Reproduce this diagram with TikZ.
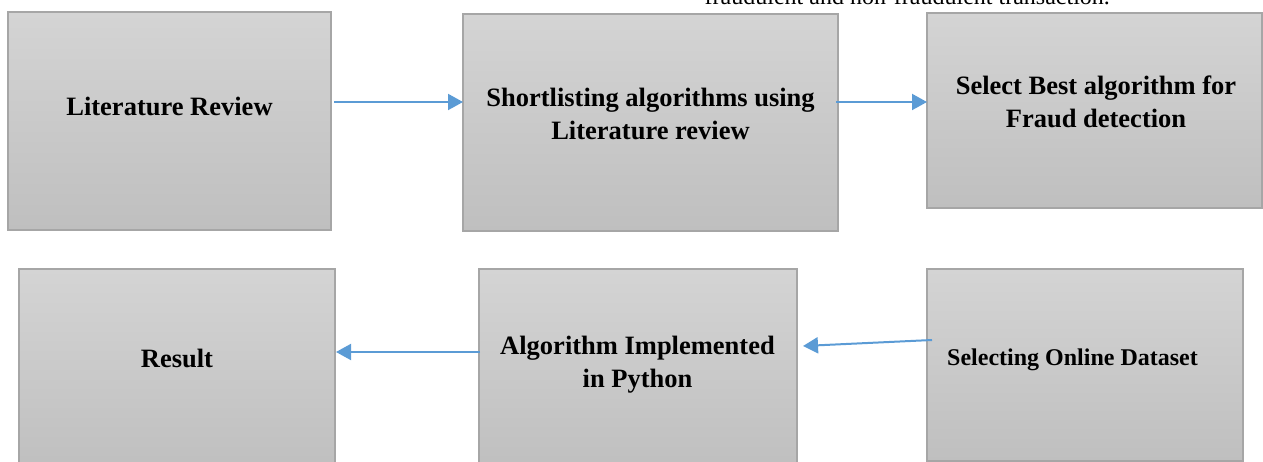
\documentclass[tikz,border=0pt]{standalone}
\usepackage{fontspec}
\setmainfont{Liberation Serif}
\usetikzlibrary{arrows.meta}
\definecolor{arrblue}{HTML}{5B9BD5}
\definecolor{boxedge}{HTML}{A6A6A6}
\definecolor{boxtop}{HTML}{D4D4D4}
\definecolor{boxbot}{HTML}{BFBFBF}
\tikzset{
  box/.style={draw=boxedge, line width=1.2pt, top color=boxtop, bottom color=boxbot, inner sep=0pt, outer sep=0pt},
  lbl/.style={font=\fontsize{26.5}{33}\selectfont\bfseries, align=center, inner sep=0pt, outer sep=0pt},
  arr/.style={draw=arrblue, line width=2pt, -{Triangle[length=15pt,width=16pt]}}
}
\begin{document}
\begin{tikzpicture}[x=1pt,y=-1pt]
\useasboundingbox (0,0) rectangle (1263,462);
\clip (0,0) rectangle (1263,462);
% boxes
\node[box, minimum width=323, minimum height=218] (b1) at (169.5,121) {};
\node[box, minimum width=375, minimum height=217] (b2) at (650.5,122.5) {};
\node[box, minimum width=335, minimum height=195] (b3) at (1094.5,110.5) {};
\node[box, minimum width=316, minimum height=201] (b6) at (177,369.5) {};
\node[box, minimum width=318, minimum height=201] (b4) at (638,369.5) {};
\node[box, minimum width=316, minimum height=192] (b5) at (1085,365) {};
% labels (base anchor = baseline of the last line)
\node[lbl, anchor=base] (t1) at (169.5,115.5) {Literature Review};
\node[lbl, anchor=base] (t2) at (650.5,140) {Shortlisting algorithms using\\Literature review};
\node[lbl, anchor=base] (t3) at (1096,128) {Select Best algorithm for\\Fraud detection};
\node[lbl, anchor=base] (t4) at (637.5,387) {Algorithm Implemented\\in Python};
\node[lbl, anchor=base] (t6) at (177,367) {Result};
\node[font=\fontsize{24}{29}\selectfont\bfseries, inner sep=0pt, anchor=base west] (t5) at (947,365) {Selecting Online Dataset};
\node[font=\fontsize{24}{29}\selectfont, inner sep=0pt, anchor=base west] (top) at (704.5,5) {fraudulent and non-fraudulent transaction.};
% arrows
\draw[arr] ([shift={(3,-19)}]b1.east) -- ([shift={(0,-20.5)}]b2.west);
\draw[arr] ([shift={(-2,-20.5)}]b2.east) -- ([shift={(0,-8.5)}]b3.west);
\draw[arr] ([shift={(5,-25)}]b5.west) -- ([shift={(6,-23.5)}]b4.east);
\draw[arr] ([shift={(1,-17.5)}]b4.west) -- ([shift={(1,-17.5)}]b6.east);
\end{tikzpicture}
\end{document}
